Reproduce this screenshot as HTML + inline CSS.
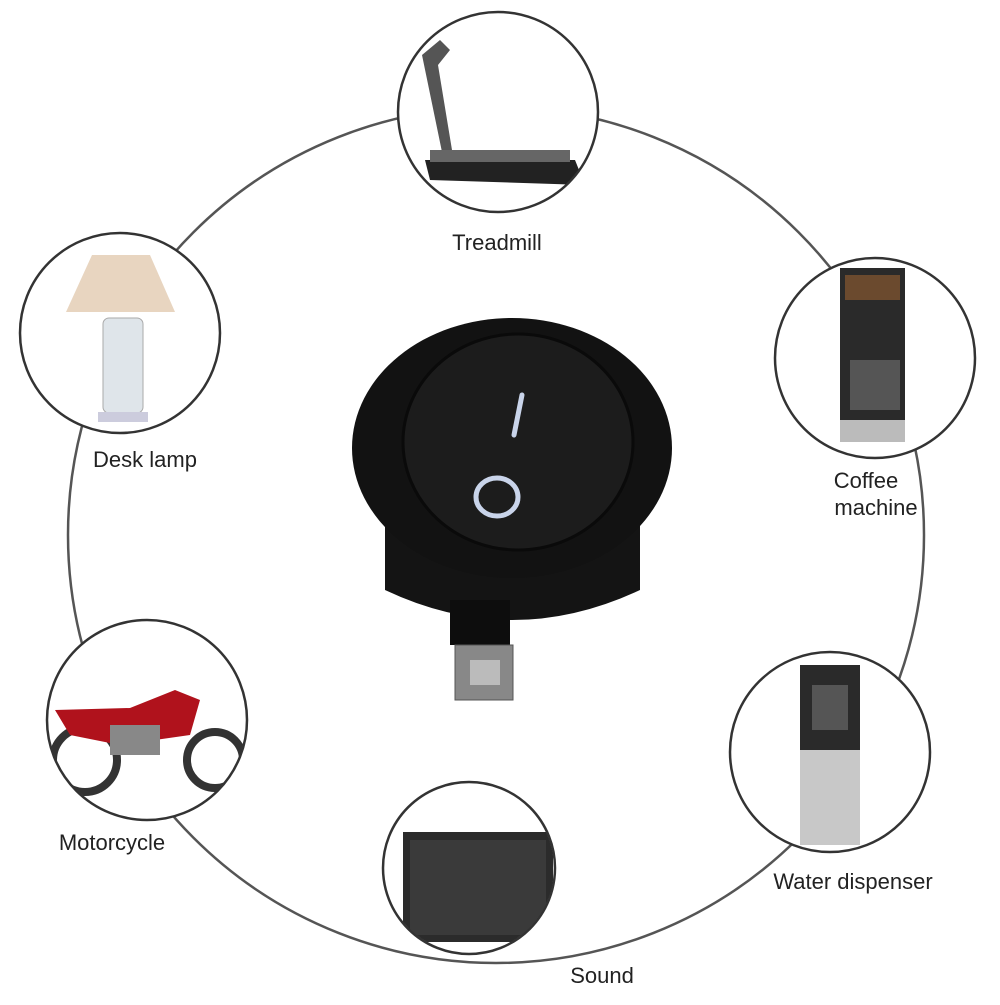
<!DOCTYPE html>
<html><head><meta charset="utf-8"><style>
html,body{margin:0;padding:0;background:#fff;}
svg text{font-family:"Liberation Sans",sans-serif;font-size:22px;fill:#222;}
</style></head><body>
<svg width="1000" height="1000" viewBox="0 0 1000 1000" xmlns="http://www.w3.org/2000/svg">
<defs>
<clipPath id="c1"><circle cx="498" cy="112" r="99"/></clipPath>
<clipPath id="c2"><circle cx="120" cy="333" r="99"/></clipPath>
<clipPath id="c3"><circle cx="875" cy="358" r="99"/></clipPath>
<clipPath id="c4"><circle cx="830" cy="752" r="99"/></clipPath>
<clipPath id="c5"><circle cx="469" cy="868" r="85"/></clipPath>
<clipPath id="c6"><circle cx="147" cy="720" r="99"/></clipPath>
</defs>
<rect width="1000" height="1000" fill="#fff"/>
<circle cx="496" cy="535" r="428" fill="none" stroke="#555" stroke-width="2.5"/>
<g fill="#fff" stroke="#333" stroke-width="2.5">
<circle cx="498" cy="112" r="100"/>
<circle cx="120" cy="333" r="100"/>
<circle cx="875" cy="358" r="100"/>
<circle cx="830" cy="752" r="100"/>
<circle cx="469" cy="868" r="86"/>
<circle cx="147" cy="720" r="100"/>
</g>
<g clip-path="url(#c1)">
<polygon points="422,55 440,40 450,50 438,65 452,150 442,152" fill="#555"/>
<polygon points="425,160 575,160 585,185 430,180" fill="#222"/>
<rect x="430" y="150" width="140" height="12" fill="#666"/>
</g>
<g clip-path="url(#c2)">
<polygon points="92,255 150,255 175,312 66,312" fill="#e8d5c0"/>
<rect x="103" y="318" width="40" height="95" rx="6" fill="#dfe5ea" stroke="#aaa"/>
<rect x="98" y="412" width="50" height="10" fill="#ccd"/>
</g>
<g clip-path="url(#c3)">
<rect x="840" y="268" width="65" height="170" fill="#2a2a2a"/>
<rect x="845" y="275" width="55" height="25" fill="#6b4a2e"/>
<rect x="850" y="360" width="50" height="50" fill="#555"/>
<rect x="840" y="420" width="65" height="22" fill="#bbb"/>
</g>
<g clip-path="url(#c4)">
<rect x="800" y="665" width="60" height="180" fill="#c8c8c8"/>
<rect x="800" y="665" width="60" height="85" fill="#2a2a2a"/>
<rect x="812" y="685" width="36" height="45" fill="#555"/>
</g>
<g clip-path="url(#c5)">
<rect x="403" y="832" width="150" height="110" fill="#2b2b2b"/>
<rect x="410" y="840" width="136" height="95" fill="#3a3a3a"/>
</g>
<g clip-path="url(#c6)">
<circle cx="85" cy="760" r="32" fill="none" stroke="#333" stroke-width="8"/>
<circle cx="215" cy="760" r="28" fill="none" stroke="#333" stroke-width="8"/>
<path d="M55,710 L130,708 L175,690 L200,700 L190,735 L120,745 L70,735 Z" fill="#b0121c"/>
<rect x="110" y="725" width="50" height="30" fill="#888"/>
</g>
<text x="497" y="250" text-anchor="middle">Treadmill</text>
<text x="145" y="467" text-anchor="middle">Desk lamp</text>
<text x="866" y="488" text-anchor="middle">Coffee</text>
<text x="876" y="515" text-anchor="middle">machine</text>
<text x="853" y="889" text-anchor="middle">Water dispenser</text>
<text x="602" y="983" text-anchor="middle">Sound</text>
<text x="112" y="850" text-anchor="middle">Motorcycle</text>
<path d="M385,460 L385,590 Q512,650 640,590 L640,460 Z" fill="#141414"/>
<rect x="450" y="600" width="60" height="45" fill="#0d0d0d"/>
<rect x="455" y="645" width="58" height="55" fill="#888" stroke="#555"/>
<rect x="470" y="660" width="30" height="25" fill="#bbb"/>
<ellipse cx="512" cy="448" rx="160" ry="130" fill="#121212"/>
<ellipse cx="518" cy="442" rx="115" ry="108" fill="#1c1c1c" stroke="#0a0a0a" stroke-width="3"/>
<line x1="522" y1="395" x2="514" y2="435" stroke="#c9d4ea" stroke-width="5" stroke-linecap="round"/>
<ellipse cx="497" cy="497" rx="21" ry="19" fill="none" stroke="#c9d4ea" stroke-width="5"/>
</svg>
</body></html>
